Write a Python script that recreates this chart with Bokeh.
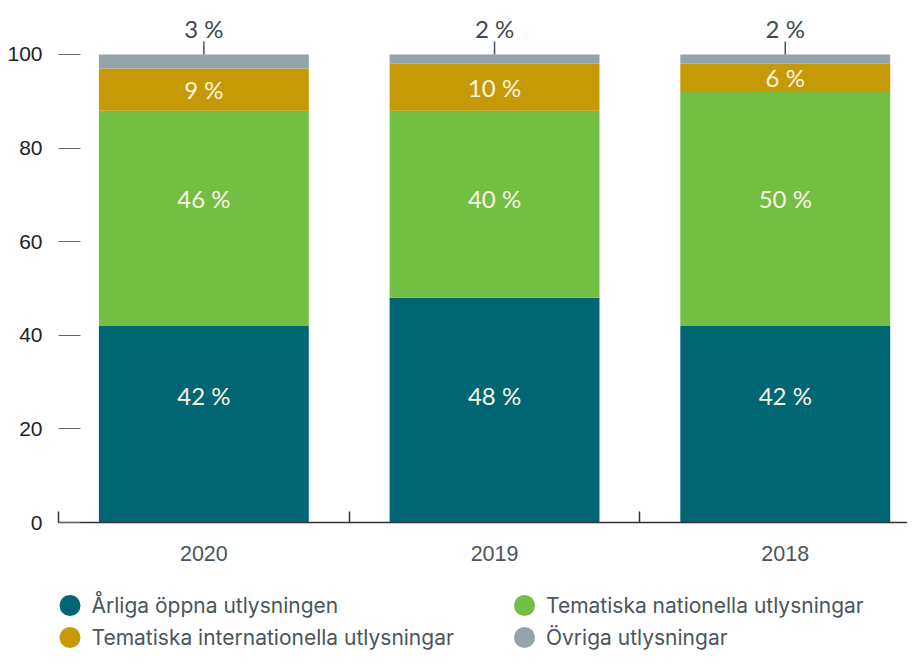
from bokeh.plotting import figure
from bokeh.models import Range1d, FixedTicker, ColumnDataSource
from bokeh.layouts import column
from bokeh.embed import file_html
from bokeh.resources import INLINE
from bokeh.core.properties import value

# ---------------- data ----------------
years = ["2020", "2019", "2018"]
series = [
    "Årliga öppna utlysningen",
    "Tematiska nationella utlysningar",
    "Tematiska internationella utlysningar",
    "Övriga utlysningar",
]
arliga = [42, 48, 42]
nationella = [46, 40, 50]
internationella = [9, 10, 6]
ovriga = [3, 2, 2]
y_ticks = [0, 20, 40, 60, 80, 100]

# ---------------- style ----------------
colors = ["#006674", "#72bf44", "#c69a06", "#95a3aa"]
INNER_TXT = "#f8f4e2"
DARK_TXT = "#3e4a51"
AXIS_FONT = "Liberation Sans"
LEG_FONT = "Inter"
PCT_FONT = "Lato"
PCT_SIZE = "24px"
BAR_WIDTH = 0.722
ROW_ARLIGA = 27.1      # label row for bottom segment
ROW_NATIONELLA = 69.2  # label row for green segment
MAIN_H = 567

def pct(v):
    return f"{v} %"

xs = [i + 0.5 for i in range(len(years))]
keys = ["arliga", "nationella", "internationella", "ovriga"]
src = ColumnDataSource(dict(x=xs, arliga=arliga, nationella=nationella,
                            internationella=internationella, ovriga=ovriga))

p = figure(width=907, height=MAIN_H, x_range=Range1d(0, 2.9205), y_range=Range1d(0, 109.4),
           output_backend="svg", toolbar_location=None,
           min_border_left=58, min_border_right=0, min_border_top=10,
           min_border_bottom=MAIN_H - 522)
p.outline_line_color = None
p.grid.visible = False

p.vbar_stack(keys, x="x", width=BAR_WIDTH, source=src, color=colors, line_color=None)

# inner labels
p.text(x=xs, y=[ROW_ARLIGA] * len(xs), text=[pct(v) for v in arliga],
       text_align="center", text_baseline="middle", text_color=INNER_TXT,
       text_font=value(PCT_FONT), text_font_size=PCT_SIZE)
p.text(x=xs, y=[ROW_NATIONELLA] * len(xs), text=[pct(v) for v in nationella],
       text_align="center", text_baseline="middle", text_color=INNER_TXT,
       text_font=value(PCT_FONT), text_font_size=PCT_SIZE)
gold_mid = [a + n + i / 2 for a, n, i in zip(arliga, nationella, internationella)]
p.text(x=xs, y=gold_mid, text=[pct(v) for v in internationella],
       text_align="center", text_baseline="middle", text_color=INNER_TXT,
       text_font=value(PCT_FONT), text_font_size=PCT_SIZE)

# top labels with leader lines
tops = [a + n + i + o for a, n, i, o in zip(arliga, nationella, internationella, ovriga)]
p.segment(x0=xs, y0=tops, x1=xs, y1=[t + 2.8 for t in tops], line_color="#4a555c", line_width=1.5)
p.text(x=xs, y=[t + 5.5 for t in tops], text=[pct(v) for v in ovriga],
       text_align="center", text_baseline="middle", text_color=DARK_TXT,
       text_font=value(PCT_FONT), text_font_size=PCT_SIZE)

# y axis
ya = p.yaxis[0]
ya.ticker = FixedTicker(ticks=y_ticks)
ya.axis_line_color = None
ya.major_tick_in = 22
ya.major_tick_out = 0
ya.major_tick_line_color = "#666666"
ya.major_tick_line_width = 1
ya.minor_tick_line_color = None
ya.major_label_standoff = 16
ya.major_label_text_font = AXIS_FONT
ya.major_label_text_font_size = "21px"
ya.major_label_text_color = "#222222"

# x axis
xa = p.xaxis[0]
xa.ticker = FixedTicker(ticks=xs, minor_ticks=list(range(len(years) + 1)))
xa.major_label_overrides = {x: y for x, y in zip(xs, years)}
xa.major_tick_in = 0
xa.major_tick_out = 0
xa.minor_tick_in = 11
xa.minor_tick_out = 0
xa.minor_tick_line_color = "#333333"
xa.minor_tick_line_width = 1.5
xa.axis_line_color = "#333333"
xa.axis_line_width = 1.5
xa.major_label_standoff = 23
xa.major_label_text_font = AXIS_FONT
xa.major_label_text_font_size = "21.5px"
xa.major_label_text_color = "#4a555c"

# ---------------- legend ----------------
LEG_H = 652 - MAIN_H
LEG_LEFT = 58
LEG_COL_X = [69.5, 524]
LEG_ROW_Y = [38, 70]
TEXT_GAP = 21.5
leg = figure(width=907, height=LEG_H, x_range=Range1d(LEG_LEFT, 907), y_range=Range1d(LEG_H, 0),
             output_backend="svg", toolbar_location=None,
             min_border_left=LEG_LEFT, min_border_right=0, min_border_top=0, min_border_bottom=0)
leg.axis.visible = False
leg.grid.visible = False
leg.outline_line_color = None
lx = [LEG_COL_X[i % 2] for i in range(len(series))]
ly = [LEG_ROW_Y[i // 2] for i in range(len(series))]
leg.scatter(x=lx, y=ly, size=21, color=colors, line_color=None)
leg.text(x=[v + TEXT_GAP for v in lx], y=ly, text=series, text_align="left",
         text_baseline="middle", text_color="#4a555c",
         text_font=value(LEG_FONT), text_font_size="21px")

layout = column(p, leg, spacing=0)
open("out.html", "w").write(file_html(layout, INLINE))
